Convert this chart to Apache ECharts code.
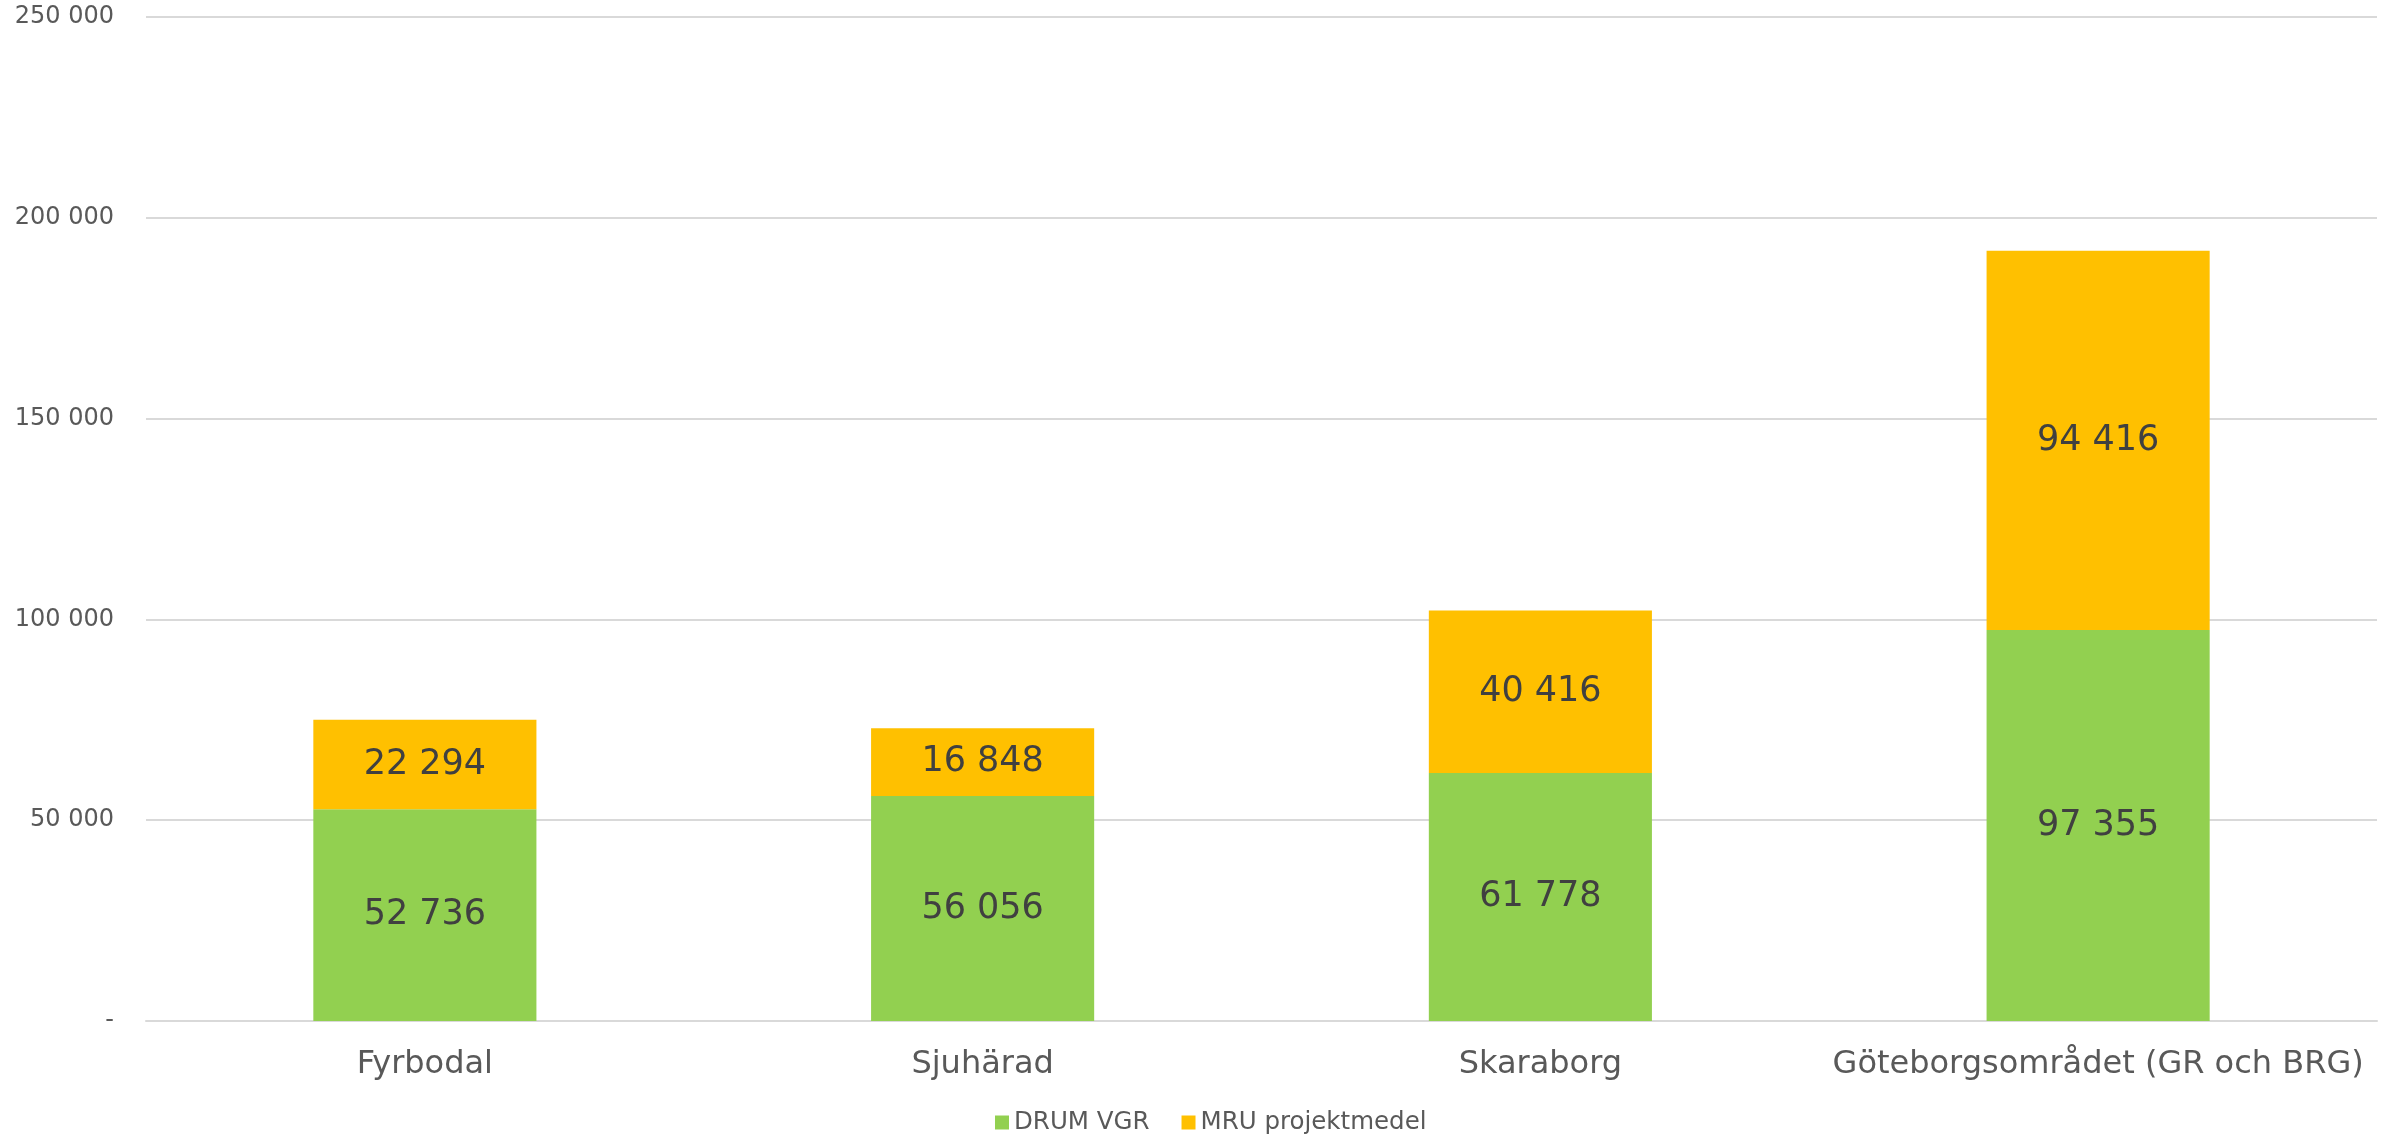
<!DOCTYPE html>
<html>
<head>
<meta charset="utf-8">
<script src="https://cdn.jsdelivr.net/npm/echarts@6/dist/echarts.min.js"></script>
<style>
    html, body { margin: 0; padding: 0; background: #fff; }
    #chart { width: 2392px; height: 1136px; }
</style>
</head>
<body>
<div id="chart"></div>
<script>
// kategorier och värden
const regions = ['Fyrbodal', 'Sjuhärad', 'Skaraborg', 'Göteborgsområdet (GR och BRG)'];
const drumVgr = [52736, 56056, 61778, 97355];
const mruProjektmedel = [22294, 16848, 40416, 94416];

const fontFamily = 'Verdana, "DejaVu Sans", sans-serif';

// tusentalsavgränsare med mellanslag, 0 visas som "-"
function fmt(v) {
    if (v === 0) return '-';
    return String(Math.round(v)).replace(/\B(?=(\d{3})+(?!\d))/g, ' ');
}

const chart = echarts.init(document.getElementById('chart'), null, { renderer: 'canvas' });

const labelStyle = {
    show: true,
    position: 'inside',
    color: '#404040',
    fontSize: 35,
    fontFamily: fontFamily,
    formatter: p => fmt(p.value)
};

const option = {
    backgroundColor: '#ffffff',
    animation: false,
    grid: {
        left: 146,
        right: 15,
        top: 17,
        bottom: 115
    },
    legend: {
        top: 1105,
        left: 990,
        itemWidth: 14,
        itemHeight: 14,
        itemGap: 32,
        icon: 'rect',
        textStyle: { color: '#595959', fontSize: 24.5, fontFamily: fontFamily },
        data: ['DRUM VGR', 'MRU projektmedel']
    },
    xAxis: {
        type: 'category',
        data: regions,
        axisLine: { lineStyle: { color: '#d9d9d9', width: 2 } },
        axisTick: { show: false },
        axisLabel: {
            interval: 0,
            color: '#595959',
            fontSize: 32,
            fontFamily: fontFamily,
            margin: 28
        }
    },
    yAxis: {
        type: 'value',
        min: 0,
        max: 250000,
        interval: 50000,
        axisLine: { show: false },
        axisTick: { show: false },
        splitLine: { lineStyle: { color: '#d9d9d9', width: 2 } },
        axisLabel: {
            color: '#595959',
            fontSize: 24,
            fontFamily: fontFamily,
            margin: 32,
            formatter: fmt
        }
    },
    series: [
        {
            name: 'DRUM VGR',
            type: 'bar',
            stack: 'total',
            barWidth: '40%',
            itemStyle: { color: '#92d050' },
            label: labelStyle,
            data: drumVgr
        },
        {
            name: 'MRU projektmedel',
            type: 'bar',
            stack: 'total',
            barWidth: '40%',
            itemStyle: { color: '#ffc000' },
            label: labelStyle,
            data: mruProjektmedel
        }
    ]
};

chart.setOption(option);
</script>
</body>
</html>
